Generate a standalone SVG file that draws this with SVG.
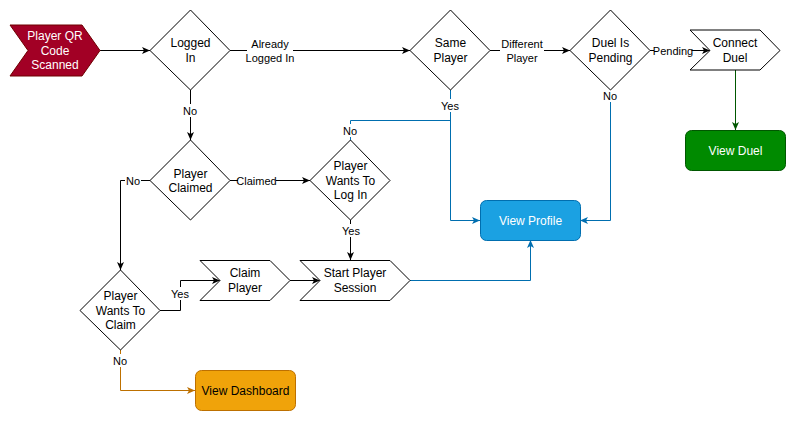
<svg xmlns="http://www.w3.org/2000/svg" width="796" height="422" viewBox="0 0 796 422">
<style>
.n{font-family:"Liberation Sans",Arial,sans-serif;font-size:12px;text-anchor:middle;fill:#000}
.w{fill:#fff}
.l{font-family:"Liberation Sans",Arial,sans-serif;font-size:11px;text-anchor:middle;fill:#000}
.sh{fill:#fff;stroke:#000;stroke-width:1}
.e{fill:none;stroke-width:1}
.k{stroke:#000}
.b{stroke:#006EAF}
.g{stroke:#005700}
.o{stroke:#BD7000}
.bg{fill:#fff}
</style>
<defs>
<marker id="ak" markerUnits="userSpaceOnUse" markerWidth="9" markerHeight="9" refX="8" refY="4" orient="auto"><path d="M0,0.5 L8,4 L0,7.5 L2,4 Z" fill="#000"/></marker>
<marker id="ab" markerUnits="userSpaceOnUse" markerWidth="9" markerHeight="9" refX="8" refY="4" orient="auto"><path d="M0,0.5 L8,4 L0,7.5 L2,4 Z" fill="#006EAF"/></marker>
<marker id="ag" markerUnits="userSpaceOnUse" markerWidth="9" markerHeight="9" refX="8" refY="4" orient="auto"><path d="M0,0.5 L8,4 L0,7.5 L2,4 Z" fill="#005700"/></marker>
<marker id="ao" markerUnits="userSpaceOnUse" markerWidth="9" markerHeight="9" refX="8" refY="4" orient="auto"><path d="M0,0.5 L8,4 L0,7.5 L2,4 Z" fill="#BD7000"/></marker>
</defs>
<rect width="796" height="422" fill="#fff"/>
<g id="connectors">
<path class="e k" d="M100,50.5 L150,50.5" marker-end="url(#ak)"/>
<path class="e k" d="M230,50.5 L410,50.5" marker-end="url(#ak)"/>
<path class="e k" d="M490,50.5 L570,50.5" marker-end="url(#ak)"/>
<path class="e k" d="M650,50.5 L710,50.5" marker-end="url(#ak)"/>
<path class="e g" d="M735.5,70 L735.5,130" marker-end="url(#ag)"/>
<path class="e b" d="M450.5,90 L450.5,220.5 L480,220.5" marker-end="url(#ab)"/>
<path class="e b" d="M350.5,140 L350.5,120.5 L450.5,120.5"/>
<path class="e b" d="M610.5,90 L610.5,220.5 L580,220.5" marker-end="url(#ab)"/>
<path class="e k" d="M190.5,90 L190.5,140" marker-end="url(#ak)"/>
<path class="e k" d="M230,180.5 L310,180.5" marker-end="url(#ak)"/>
<path class="e k" d="M350.5,220 L350.5,260" marker-end="url(#ak)"/>
<path class="e k" d="M290,280.5 L320,280.5" marker-end="url(#ak)"/>
<path class="e b" d="M410,280.5 L530.5,280.5 L530.5,240" marker-end="url(#ab)"/>
<path class="e k" d="M150,180.5 L120.5,180.5 L120.5,270" marker-end="url(#ak)"/>
<path class="e k" d="M160,310.5 L180.5,310.5 L180.5,280.5 L220,280.5" marker-end="url(#ak)"/>
<path class="e o" d="M120.5,350 L120.5,390.5 L195,390.5" marker-end="url(#ao)"/>
<rect class="bg" x="247" y="38" width="46" height="26"/>
<text class="l" x="270" y="48">Already</text>
<text class="l" x="270" y="61.5">Logged In</text>
<rect class="bg" x="500" y="38" width="44" height="26"/>
<text class="l" x="522" y="48">Different</text>
<text class="l" x="522" y="61.5">Player</text>
<rect class="bg" x="654" y="44" width="38" height="13"/>
<text class="l" x="673" y="55">Pending</text>
<rect class="bg" x="440" y="99" width="21" height="13"/>
<text class="l" x="450" y="110">Yes</text>
<rect class="bg" x="602" y="90" width="16" height="12"/>
<text class="l" x="610" y="100">No</text>
<rect class="bg" x="182" y="104" width="16" height="13"/>
<text class="l" x="190" y="115">No</text>
<rect class="bg" x="342" y="124" width="16" height="13"/>
<text class="l" x="350" y="135">No</text>
<rect class="bg" x="125" y="174" width="16" height="13"/>
<text class="l" x="133" y="184.5">No</text>
<rect class="bg" x="238" y="174" width="38" height="13"/>
<text class="l" x="256.5" y="184.5">Claimed</text>
<rect class="bg" x="341" y="224" width="21" height="13"/>
<text class="l" x="351" y="235">Yes</text>
<rect class="bg" x="170" y="287" width="21" height="13"/>
<text class="l" x="180" y="298">Yes</text>
<rect class="bg" x="112" y="354" width="16" height="13"/>
<text class="l" x="120" y="365">No</text>
</g>
<g id="player-qr">
<path d="M10,25 L82,25 L100,50.5 L82,76 L10,76 L28,50.5 Z" fill="#a20025" stroke="#6F0000"/>
<text class="n w" x="55" y="40">Player QR</text>
<text class="n w" x="55" y="54.5">Code</text>
<text class="n w" x="55" y="69">Scanned</text>
</g>
<g id="logged-in">
<path class="sh" d="M190.5,10 L230,50.5 L190.5,90 L150,50.5 Z"/>
<text class="n" x="190.5" y="47">Logged</text>
<text class="n" x="190.5" y="61.5">In</text>
</g>
<g id="same-player">
<path class="sh" d="M450.5,10 L490,50.5 L450.5,90 L410,50.5 Z"/>
<text class="n" x="450.5" y="47">Same</text>
<text class="n" x="450.5" y="61.5">Player</text>
</g>
<g id="duel-pending">
<path class="sh" d="M610.5,10 L650,50.5 L610.5,90 L570,50.5 Z"/>
<text class="n" x="610.5" y="47">Duel Is</text>
<text class="n" x="610.5" y="61.5">Pending</text>
</g>
<g id="connect-duel">
<path class="sh" d="M690,30 L760,30 L780,50.5 L760,70 L690,70 L710,50.5 Z"/>
<text class="n" x="735" y="47">Connect</text>
<text class="n" x="735" y="61.5">Duel</text>
</g>
<g id="view-duel">
<rect x="685.5" y="130.5" width="100" height="40" rx="6" fill="#008a00" stroke="#005700"/>
<text class="n w" x="735.5" y="155">View Duel</text>
</g>
<g id="view-profile">
<rect x="480.5" y="200.5" width="100" height="40" rx="6" fill="#1ba1e2" stroke="#006EAF"/>
<text class="n w" x="530.5" y="225">View Profile</text>
</g>
<g id="player-claimed">
<path class="sh" d="M190.5,140 L230,180.5 L190.5,220 L150,180.5 Z"/>
<text class="n" x="190.5" y="177.5">Player</text>
<text class="n" x="190.5" y="192">Claimed</text>
</g>
<g id="wants-login">
<path class="sh" d="M350.5,140 L390,180.5 L350.5,220 L310,180.5 Z"/>
<text class="n" x="350.5" y="170">Player</text>
<text class="n" x="350.5" y="184.5">Wants To</text>
<text class="n" x="350.5" y="199">Log In</text>
</g>
<g id="claim-player">
<path class="sh" d="M200,260.5 L270,260.5 L290,280.5 L270,300.5 L200,300.5 L220,280.5 Z"/>
<text class="n" x="245" y="277">Claim</text>
<text class="n" x="245" y="291.5">Player</text>
</g>
<g id="start-session">
<path class="sh" d="M300,260.5 L390,260.5 L410,280.5 L390,300.5 L300,300.5 L320,280.5 Z"/>
<text class="n" x="355" y="277">Start Player</text>
<text class="n" x="355" y="291.5">Session</text>
</g>
<g id="wants-claim">
<path class="sh" d="M120.5,270 L160,310.5 L120.5,350 L80,310.5 Z"/>
<text class="n" x="120.5" y="300">Player</text>
<text class="n" x="120.5" y="314.5">Wants To</text>
<text class="n" x="120.5" y="329">Claim</text>
</g>
<g id="view-dashboard">
<rect x="195.5" y="370.5" width="100" height="40" rx="6" fill="#f0a30a" stroke="#BD7000"/>
<text class="n" x="245.5" y="395">View Dashboard</text>
</g>
</svg>
